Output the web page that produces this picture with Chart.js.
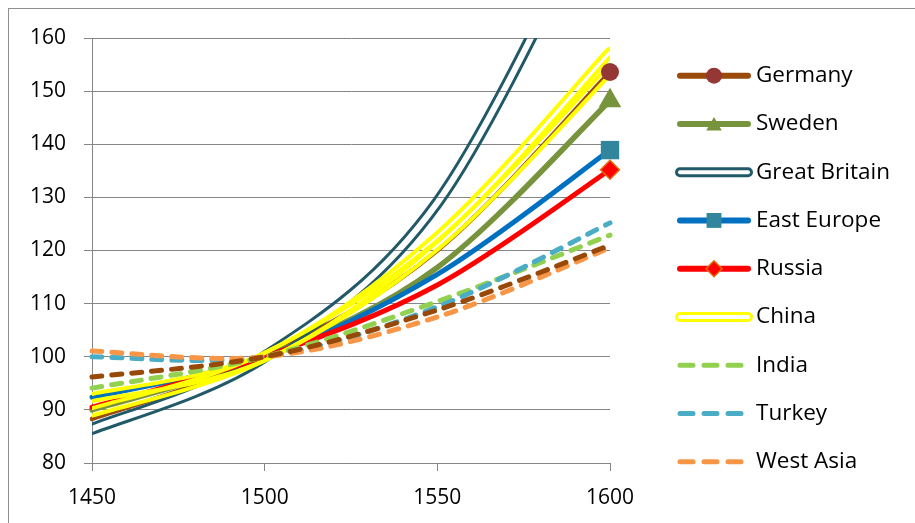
<!DOCTYPE html>
<html>
<head>
<meta charset="utf-8">
<script src="https://cdn.jsdelivr.net/npm/chart.js@4.4.0/dist/chart.umd.min.js"></script>
<style>
    html, body { margin: 0; padding: 0; background: #fff; overflow: hidden; }
</style>
</head>
<body>
<canvas id="growthChart" width="915" height="523"></canvas>
<script>
// Axis ticks
const years = [1450, 1500, 1550, 1600];
const yTicks = [80, 90, 100, 110, 120, 130, 140, 150, 160];

// Series values (index, 1500 = 100)
const germany = [88.3, 100, 120.0, 153.6];
const sweden = [90.0, 100, 116.8, 148.2];
const greatBritain = [86.4, 100, 129.0, 190.0];
const eastEurope = [92.4, 100, 115.5, 138.9];
const russia = [90.5, 100, 113.5, 135.2];
const china = [92.3, 100, 122.5, 157.3];
const chinaAlt = [89.6, 100, 121.0, 154.0];
const india = [94.1, 100, 110.4, 122.9];
const turkey = [100.0, 100, 109.4, 125.2];
const westAsia = [101.1, 100, 107.5, 120.5];
const otherDashed = [96.2, 100, 108.8, 121.0];

const GRID = '#868686';
const FONT = "'Open Sans', 'Noto Sans', sans-serif";

function points(values) {
    return years.map((yr, i) => ({ x: yr, y: values[i] }));
}

/**
 * Build one line dataset
 */
function lineSet(label, values, color, style) {
    return Object.assign({
        label: label,
        data: points(values),
        borderColor: color,
        backgroundColor: color,
        borderWidth: 5,
        inLegend: true
    }, style);
}

const lineSets = [
    lineSet('Germany', germany, '#9a4a0a', { borderWidth: 4.5, legendWidth: 6,
        marker: { style: 'circle', radius: 9, legendRadius: 8, fill: '#953735', stroke: '#953735', width: 0 } }),
    lineSet('Sweden', sweden, '#77933c', { borderWidth: 5.5, legendWidth: 6,
        marker: { style: 'triangle', radius: 13, legendRadius: 9, fill: '#77933c', stroke: '#77933c', width: 0 } }),
    lineSet('Great Britain', greatBritain, '#215968', { compound: { outer: 12, inner: 6 } }),
    lineSet('East Europe', eastEurope, '#0070c0', { legendWidth: 6,
        marker: { style: 'rect', radius: 13, legendRadius: 10.5, fill: '#31859c', stroke: '#31859c', width: 0 } }),
    lineSet('Russia', russia, '#ff0000', { legendWidth: 6,
        marker: { style: 'rectRot', radius: 9.5, legendRadius: 8, fill: '#ff0000', stroke: '#e46c0a', width: 1.5 } }),
    lineSet('China', china, '#ffff00', { compound: { outer: 11, inner: 3 } }),
    lineSet('China (2)', chinaAlt, '#ffff00', { compound: { outer: 11, inner: 3 }, inLegend: false }),
    lineSet('India', india, '#92d050', { borderDash: [10, 10], legendDash: [13, 11] }),
    lineSet('Turkey', turkey, '#4bacc6', { borderDash: [10, 10], legendDash: [13, 11] }),
    lineSet('West Asia', westAsia, '#f79646', { borderDash: [10, 10], legendDash: [13, 11] }),
    lineSet('Other', otherDashed, '#984807', { borderDash: [10, 10], inLegend: false })
];

// End markers are drawn above every line, as in the original
const markerSets = lineSets.filter(ds => ds.marker).map(ds => ({
    label: ds.label + ' marker',
    data: ds.data,
    showLine: false,
    inLegend: false,
    pointStyle: ds.marker.style,
    pointRadius: ds.data.map((p, i) => i === ds.data.length - 1 ? ds.marker.radius : 0),
    pointBackgroundColor: ds.marker.fill,
    pointBorderColor: ds.marker.stroke,
    pointBorderWidth: ds.marker.width
}));

const datasets = lineSets.concat(markerSets);
datasets.forEach((ds, i) => { ds.order = -i; });

/**
 * Spreadsheet-style smoothing: uniform Catmull-Rom control points
 */
function smoothLine(line, area) {
    line.updateControlPoints(area, 'x');
    const pts = line.points;
    pts.forEach((pt, i) => {
        const prev = pts[i - 1] || pt;
        const next = pts[i + 1] || pt;
        const dx = (next.x - prev.x) / 6;
        const dy = (next.y - prev.y) / 6;
        pt.cp1x = pt.x - dx;
        pt.cp1y = pt.y - dy;
        pt.cp2x = pt.x + dx;
        pt.cp2y = pt.y + dy;
    });
    line._path = undefined;
}

/**
 * Double lines with a see-through gap
 */
const compoundLines = {
    id: 'compoundLines',
    beforeDatasetDraw(chart, args) {
        const ds = chart.data.datasets[args.index];
        const line = args.meta.dataset;
        if (line && ds.showLine !== false) smoothLine(line, chart.chartArea);
        if (!ds.compound) return;
        const area = chart.chartArea;
        const off = document.createElement('canvas');
        off.width = chart.canvas.width;
        off.height = chart.canvas.height;
        const o = off.getContext('2d');
        const path = new Path2D();
        line.path(path);
        o.lineJoin = 'round';
        o.lineCap = 'round';
        o.strokeStyle = ds.borderColor;
        o.lineWidth = ds.compound.outer;
        o.stroke(path);
        o.globalCompositeOperation = 'destination-out';
        o.lineWidth = ds.compound.inner;
        o.stroke(path);
        const ctx = chart.ctx;
        ctx.save();
        ctx.beginPath();
        ctx.rect(area.left, area.top, area.right - area.left, area.bottom - area.top);
        ctx.clip();
        ctx.drawImage(off, 0, 0);
        ctx.restore();
        return false;
    }
};

/**
 * Outer frame and legend on the right
 */
const frameAndLegend = {
    id: 'frameAndLegend',
    beforeDraw(chart) {
        const ctx = chart.ctx;
        ctx.save();
        ctx.strokeStyle = '#8f8f8f';
        ctx.lineWidth = 1;
        ctx.strokeRect(8.5, 8.5, 1000, 1000);
        ctx.restore();
    },
    afterDraw(chart) {
        const ctx = chart.ctx;
        const x1 = 680, x2 = 748, textX = 756, top = 75.7, step = 48.25;
        const items = chart.data.datasets.filter(ds => ds.inLegend);
        items.forEach((ds, i) => {
            const y = top + i * step;
            const mid = (x1 + x2) / 2;
            ctx.save();
            ctx.lineCap = 'round';
            ctx.beginPath();
            ctx.moveTo(x1, y);
            ctx.lineTo(x2, y);
            if (ds.compound) {
                ctx.strokeStyle = ds.borderColor;
                ctx.lineWidth = 10;
                ctx.stroke();
                ctx.strokeStyle = '#ffffff';
                ctx.lineWidth = 4;
                ctx.stroke();
            } else {
                ctx.strokeStyle = ds.borderColor;
                ctx.lineWidth = ds.legendWidth || ds.borderWidth;
                ctx.setLineDash(ds.legendDash || []);
                ctx.stroke();
            }
            ctx.setLineDash([]);
            if (ds.marker) {
                ctx.fillStyle = ds.marker.fill;
                ctx.strokeStyle = ds.marker.stroke;
                ctx.lineWidth = ds.marker.width;
                Chart.helpers.drawPoint(ctx, {
                    pointStyle: ds.marker.style,
                    radius: ds.marker.legendRadius,
                    rotation: 0,
                    borderWidth: ds.marker.width
                }, mid, ds.marker.style === 'triangle' ? y + 2 : y);
            }
            ctx.fillStyle = '#000';
            ctx.font = '22.5px ' + FONT;
            ctx.textBaseline = 'middle';
            ctx.textAlign = 'left';
            ctx.fillText(ds.label, textX, y);
            ctx.restore();
        });
    }
};

const ctx = document.getElementById('growthChart').getContext('2d');

new Chart(ctx, {
    type: 'line',
    data: { datasets: datasets },
    plugins: [compoundLines, frameAndLegend],
    options: {
        responsive: false,
        animation: false,
        events: [],
        layout: {
            padding: { left: 8, top: 38, right: 305, bottom: 0 }
        },
        elements: {
            line: {
                tension: 0.35,
                capBezierPoints: false,
                borderCapStyle: 'round',
                borderJoinStyle: 'round',
                fill: false
            },
            point: { radius: 0, hoverRadius: 0 }
        },
        datasets: {
            line: { clip: false }
        },
        plugins: {
            legend: { display: false },
            tooltip: { enabled: false }
        },
        scales: {
            x: {
                type: 'linear',
                min: years[0],
                max: years[years.length - 1],
                afterFit: s => { s.height = 60; },
                afterBuildTicks: s => { s.ticks = years.map(v => ({ value: v })); },
                grid: {
                    drawOnChartArea: false,
                    color: GRID,
                    tickLength: 8
                },
                border: { color: GRID },
                ticks: {
                    color: '#000',
                    padding: 14,
                    maxRotation: 0,
                    callback: v => String(v),
                    font: { family: FONT, size: 21 }
                }
            },
            y: {
                min: yTicks[0],
                max: yTicks[yTicks.length - 1],
                afterFit: s => { s.width = 84; },
                afterBuildTicks: s => { s.ticks = yTicks.map(v => ({ value: v })); },
                grid: {
                    color: GRID,
                    tickLength: 8
                },
                border: { color: GRID },
                ticks: {
                    color: '#000',
                    padding: 18,
                    font: { family: FONT, size: 21 }
                }
            }
        }
    }
});
</script>
</body>
</html>
